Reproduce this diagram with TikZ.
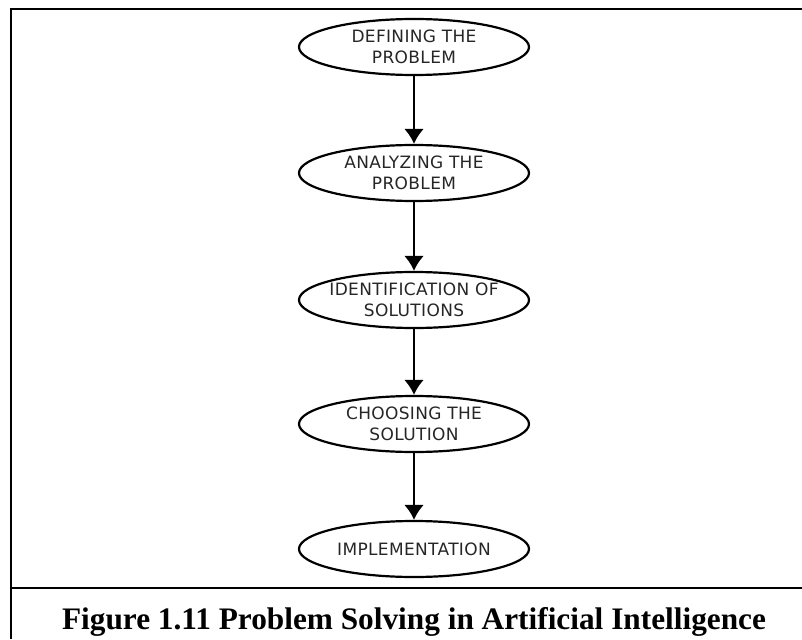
\documentclass[tikz,border=0pt]{standalone}
\usepackage{fontspec}
\newfontfamily\stagefont[LetterSpace=2]{DejaVu Sans}
\newfontfamily\capfont{Liberation Serif}
\usetikzlibrary{shapes.geometric,arrows.meta}

\begin{document}
\begin{tikzpicture}[x=1pt,y=-1pt]
\tikzstyle{every node}=[font=\stagefont\fontsize{17}{21}\selectfont]
\tikzstyle{stage}=[ellipse, draw, line width=2.2pt, minimum width=230pt, minimum height=56pt, inner xsep=-10pt, inner ysep=0pt, align=center, text=black!85]
\tikzstyle{flow}=[line width=2.6pt, -{Latex[length=15pt,width=20pt]}]

\useasboundingbox (0,0) rectangle (802,639);
\draw[line width=2pt] (11,639) -- (11,9) -- (802,9);
\draw[line width=2pt] (11,588) -- (802,588);

\node[stage] (define) at (414,47) {DEFINING THE\\PROBLEM};
\node[stage] (analyze) at (414,173) {ANALYZING THE\\PROBLEM};
\node[stage] (identify) at (414,300) {IDENTIFICATION OF\\SOLUTIONS};
\node[stage] (choose) at (414,424) {CHOOSING THE\\SOLUTION};
\node[stage] (implement) at (414,549) {IMPLEMENTATION};

\draw[flow] (define) -- (analyze);
\draw[flow] (analyze) -- (identify);
\draw[flow] (identify) -- (choose);
\draw[flow] (choose) -- (implement);

\node[anchor=base, font=\capfont\bfseries\fontsize{31.3}{36}\selectfont] (caption) at (414,629) {Figure 1.11 Problem Solving in Artificial Intelligence};

\end{tikzpicture}
\end{document}
